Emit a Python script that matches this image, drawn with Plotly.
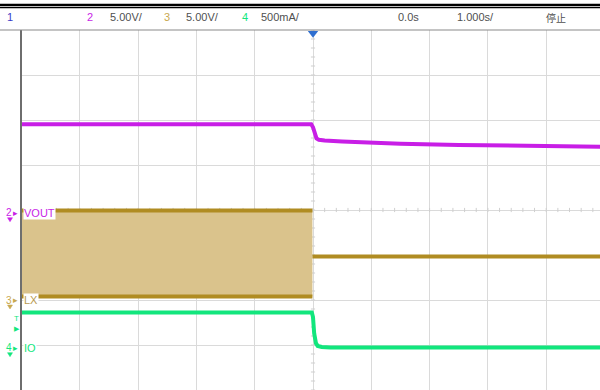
import plotly.graph_objects as go

# ---- acquisition settings ----
T_DIV = 1.0          # s/div, 10 horizontal divisions, trigger at centre
CH2_SCALE = 5.0      # V/div  (VOUT)
CH3_SCALE = 5.0      # V/div  (LX)
CH4_SCALE = 0.5      # A/div  (IO)
# ground reference of each channel, in divisions from screen centre
CH2_OFFSET = -0.06
CH3_OFFSET = -2.0
CH4_OFFSET = -3.06

# ---- captured waveforms (time in s) ----
vout_t = [-5.0, -0.03, 0.0, 0.03, 0.06, 0.1, 0.2, 0.5, 1.0, 1.5, 2.5, 3.5, 4.93]
vout_v = [9.83, 9.83, 9.5, 8.7, 8.25, 8.1, 8.02, 7.92, 7.78, 7.67, 7.52, 7.42, 7.34]

lx_t_sw = [-5.0, -0.01]          # switching interval (envelope)
lx_sw_high = [9.94, 9.94]
lx_sw_low = [0.4, 0.4]
lx_t_idle = [-0.01, 4.93]
lx_idle = [4.83, 4.83]

io_t = [-5.0, -0.02, 0.0, 0.02, 0.05, 0.08, 0.15, 0.3, 4.93]
io_a = [0.39, 0.39, 0.34, 0.16, 0.05, 0.02, 0.008, 0.003, 0.003]

C_VOUT = "#c81ee6"
C_LX = "#b08c22"
C_LX_FILL = "#dac38c"
C_IO = "#12e67d"
C_GRID = "#dadada"

W, H = 600, 390
PX_DIV = 58.3
LEFT_PX = 21.5
TOP_PX = 30.0


def to_div(vals, scale, offset):
    return [offset + v / scale for v in vals]


fig = go.Figure()

# graticule minor ticks on centre cross
xr_right = (W - LEFT_PX) / PX_DIV - 5
xs = [round(-5 + 0.2 * i, 2) for i in range(int((xr_right + 5) / 0.2) + 1)]
ys = [round(-4 + 0.2 * i, 2) for i in range(41)]
fig.add_trace(go.Scatter(x=xs, y=[0] * len(xs), mode="markers",
                         marker=dict(symbol="line-ns", size=3, line=dict(color="#cfcfcf", width=1)),
                         hoverinfo="skip", showlegend=False))
fig.add_trace(go.Scatter(x=[0] * len(ys), y=ys, mode="markers",
                         marker=dict(symbol="line-ew", size=3, line=dict(color="#cfcfcf", width=1)),
                         hoverinfo="skip", showlegend=False))

# LX switching envelope
lx_lo = to_div(lx_sw_low, CH3_SCALE, CH3_OFFSET)
lx_hi = to_div(lx_sw_high, CH3_SCALE, CH3_OFFSET)
fig.add_trace(go.Scatter(x=lx_t_sw, y=lx_lo, mode="lines", line=dict(color=C_LX, width=0),
                         hoverinfo="skip", showlegend=False))
fig.add_trace(go.Scatter(x=lx_t_sw, y=lx_hi, mode="lines", line=dict(color=C_LX, width=0),
                         fill="tonexty", fillcolor=C_LX_FILL, hoverinfo="skip", showlegend=False))
fig.add_trace(go.Scatter(x=lx_t_sw, y=lx_hi, mode="lines", line=dict(color=C_LX, width=4),
                         showlegend=False))
fig.add_trace(go.Scatter(x=lx_t_sw, y=lx_lo, mode="lines", line=dict(color=C_LX, width=4),
                         showlegend=False))
fig.add_trace(go.Scatter(x=lx_t_idle, y=to_div(lx_idle, CH3_SCALE, CH3_OFFSET), mode="lines",
                         line=dict(color=C_LX, width=4), showlegend=False))

# VOUT
fig.add_trace(go.Scatter(x=vout_t, y=to_div(vout_v, CH2_SCALE, CH2_OFFSET), mode="lines",
                         line=dict(color=C_VOUT, width=4), showlegend=False))
# IO
fig.add_trace(go.Scatter(x=io_t, y=to_div(io_a, CH4_SCALE, CH4_OFFSET), mode="lines",
                         line=dict(color=C_IO, width=4), showlegend=False))

# trigger position marker
fig.add_trace(go.Scatter(x=[0], y=[3.93], mode="markers", cliponaxis=False,
                         marker=dict(symbol="triangle-down", size=9, color="#2f6fd0"),
                         showlegend=False))

dom_top = 1 - TOP_PX / H
fig.update_layout(
    width=W, height=H,
    margin=dict(l=0, r=0, t=0, b=0),
    paper_bgcolor="white", plot_bgcolor="white",
    xaxis=dict(domain=[LEFT_PX / W, 1], range=[-5, xr_right], dtick=T_DIV, tick0=0,
               showgrid=True, gridcolor=C_GRID, gridwidth=1, zeroline=False,
               showticklabels=False, ticks="", fixedrange=True),
    yaxis=dict(domain=[0, dom_top], range=[-4, 4], dtick=1, tick0=0,
               showgrid=True, gridcolor=C_GRID, gridwidth=1, zeroline=False,
               showticklabels=False, ticks="", showline=True, linecolor="#6e6e6e",
               linewidth=2, fixedrange=True),
    showlegend=False,
)

# header borders
fig.add_shape(type="line", xref="paper", yref="paper", x0=0, x1=1,
              y0=1 - 5 / H, y1=1 - 5 / H, line=dict(color="black", width=2.5))
fig.add_shape(type="line", xref="paper", yref="paper", x0=0, x1=1,
              y0=1 - 7.6 / H, y1=1 - 7.6 / H, line=dict(color="black", width=1.2))
fig.add_shape(type="line", xref="paper", yref="paper", x0=0, x1=1,
              y0=dom_top, y1=dom_top, line=dict(color="#8a8a8a", width=1.2))

FONT = "Liberation Sans, Arial, sans-serif"
hy = 1 - 17.5 / H
header = [
    ("1", 10, "#3a3ac8"),
    ("2", 90, C_VOUT),
    ("5.00V/", 126, "#505050"),
    ("3", 167, "#c8a850"),
    ("5.00V/", 202, "#505050"),
    ("4", 245, C_IO),
    ("500mA/", 280, "#505050"),
    ("0.0s", 408, "#505050"),
    ("1.000s/", 475, "#505050"),
]
for txt, px, col in header:
    fig.add_annotation(x=px / W, y=hy, xref="paper", yref="paper", text=txt,
                       xanchor="center", yanchor="middle", showarrow=False,
                       font=dict(family=FONT, size=11, color=col))
fig.add_annotation(x=556 / W, y=hy, xref="paper", yref="paper", text="停止",
                   xanchor="center", yanchor="middle", showarrow=False,
                   font=dict(family="Noto Sans CJK JP", size=10, color="#505050"))

# channel ground markers and labels
chan_marks = [
    ("2", "VOUT", CH2_OFFSET, C_VOUT, C_VOUT),
    ("3", "LX", CH3_OFFSET, "#c8a850", "#b89a50"),
    ("4", "IO", CH4_OFFSET, C_IO, C_IO),
]
for num, name, off, col, lcol in chan_marks:
    fig.add_annotation(x=9 / W, y=off, xref="paper", yref="y", text=num, showarrow=False,
                       xanchor="center", yanchor="middle",
                       font=dict(family=FONT, size=10, color=col))
    fig.add_annotation(x=15 / W, y=off, xref="paper", yref="y", text="▸", showarrow=False,
                       xanchor="center", yanchor="middle",
                       font=dict(family="DejaVu Sans", size=9, color=col))
    # small ground glyph under the channel number
    fig.add_shape(type="path", xref="paper", yref="y", ysizemode="pixel", yanchor=off,
                  path=(f"M {7.5 / W},-5 L {12.5 / W},-5 L {10 / W},-9 Z"),
                  fillcolor=col, line=dict(color=col, width=0.5))
    fig.add_annotation(x=22.5 / W, y=off, xref="paper", yref="y", text=name, showarrow=False,
                       xanchor="left", yanchor="middle", bgcolor="white", borderpad=0,
                       font=dict(family=FONT, size=11, color=lcol))

# trigger level marker for channel 4
fig.add_annotation(x=16 / W, y=-2.42, xref="paper", yref="y", text="T", showarrow=False,
                   xanchor="center", yanchor="middle",
                   font=dict(family=FONT, size=8, color=C_IO))
fig.add_annotation(x=17 / W, y=-2.65, xref="paper", yref="y", text="▶", showarrow=False,
                   xanchor="center", yanchor="middle",
                   font=dict(family="DejaVu Sans", size=7, color=C_IO))

fig.write_html("out.html")
